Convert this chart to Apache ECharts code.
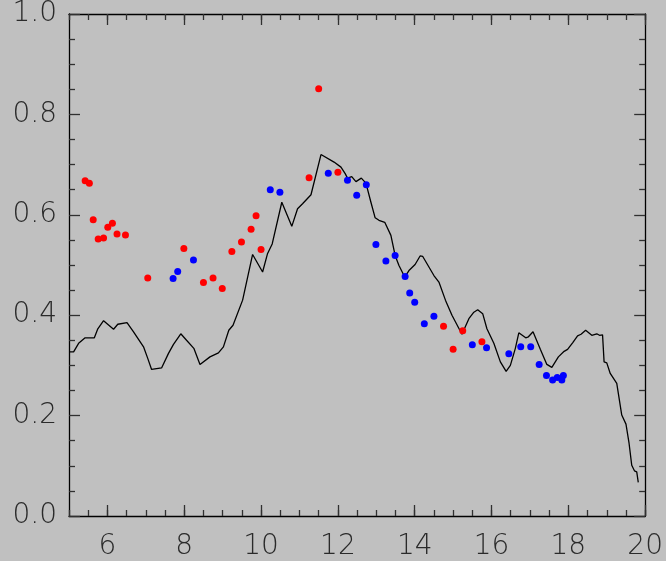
<!DOCTYPE html>
<html>
<head>
<meta charset="utf-8">
<script src="https://cdn.jsdelivr.net/npm/echarts@6/dist/echarts.min.js"></script>
<style>
html,body{margin:0;padding:0;background:#c0c0c0;}
#chart{width:666px;height:561px;}
</style>
</head>
<body>
<div id="chart"></div>
<script>
// Data
const xMajorTicks = [6, 8, 10, 12, 14, 16, 18, 20];
const yTicks = [0.0, 0.2, 0.4, 0.6, 0.8, 1.0];

const lineX = [5.01,5.12,5.25,5.42,5.66,5.75,5.90,6.16,6.27,6.51,6.68,6.94,7.05,7.15,7.41,7.59,7.72,7.91,8.06,8.25,8.41,8.67,8.89,9.02,9.16,9.27,9.52,9.78,10.04,10.17,10.29,10.54,10.80,10.95,11.08,11.30,11.56,11.90,12.08,12.19,12.25,12.36,12.47,12.61,12.73,12.86,12.97,13.07,13.22,13.38,13.49,13.59,13.74,13.85,14.01,14.14,14.21,14.37,14.50,14.63,14.80,14.97,15.23,15.41,15.54,15.64,15.77,15.88,16.06,16.23,16.38,16.49,16.62,16.71,16.89,16.96,17.08,17.27,17.44,17.57,17.74,17.89,17.98,18.11,18.24,18.33,18.45,18.50,18.61,18.74,18.81,18.89,18.93,19.00,19.09,19.26,19.39,19.50,19.58,19.65,19.72,19.78,19.82];
const lineY = [0.327,0.327,0.344,0.355,0.355,0.373,0.389,0.372,0.382,0.385,0.367,0.337,0.314,0.292,0.295,0.324,0.342,0.363,0.350,0.334,0.302,0.317,0.325,0.337,0.370,0.380,0.430,0.521,0.486,0.523,0.542,0.625,0.577,0.612,0.622,0.640,0.720,0.705,0.695,0.682,0.673,0.676,0.666,0.673,0.663,0.625,0.594,0.589,0.585,0.559,0.519,0.499,0.476,0.489,0.501,0.518,0.517,0.496,0.479,0.466,0.430,0.400,0.362,0.393,0.406,0.411,0.403,0.373,0.344,0.307,0.288,0.300,0.334,0.365,0.355,0.357,0.367,0.332,0.302,0.296,0.317,0.328,0.332,0.345,0.359,0.362,0.370,0.369,0.360,0.363,0.360,0.361,0.307,0.305,0.284,0.264,0.201,0.183,0.145,0.101,0.090,0.088,0.067];

const redX = [5.42,5.53,5.63,5.76,5.90,6.01,6.13,6.25,6.47,7.05,7.99,8.50,8.75,8.99,9.24,9.49,9.74,9.87,10.00,11.25,11.50,12.00,14.75,15.00,15.25,15.75];
const redY = [0.668,0.663,0.590,0.552,0.554,0.575,0.583,0.562,0.560,0.474,0.533,0.465,0.474,0.453,0.527,0.546,0.571,0.598,0.531,0.674,0.851,0.685,0.378,0.332,0.369,0.347];

const blueX = [7.71,7.83,8.24,10.24,10.49,11.75,12.25,12.49,12.74,12.99,13.25,13.49,13.75,13.87,14.00,14.25,14.50,15.50,15.87,16.45,16.76,17.02,17.24,17.43,17.59,17.71,17.83,17.87];
const blueY = [0.473,0.487,0.510,0.650,0.645,0.683,0.669,0.639,0.660,0.541,0.508,0.519,0.477,0.444,0.426,0.383,0.398,0.341,0.335,0.323,0.337,0.337,0.302,0.280,0.271,0.276,0.271,0.280];

const zip = (a, b) => a.map((v, i) => [v, b[i]]);

const FONT = "'DejaVu Sans', sans-serif";
const lineCol = '#000';
const tickCol = '#303030';
const labelCol = '#2a2a2a';

function xAxisMinor(pos) {
  return {
    type: 'value', position: pos, min: 5, max: 20, interval: 0.5,
    axisLine: {show: true, onZero: false, lineStyle: {color: lineCol, width: 1.3}},
    axisTick: {show: true, inside: true, length: 6, lineStyle: {color: tickCol, width: 1.3}},
    axisLabel: {show: false}, splitLine: {show: false}
  };
}
function xAxisMajor(pos, labels) {
  return {
    type: 'value', position: pos, min: 5, max: 20,
    axisLine: {show: false, onZero: false},
    axisTick: {show: true, inside: true, length: 11, customValues: xMajorTicks, lineStyle: {color: tickCol, width: 1.3}},
    axisLabel: labels ? {show: true, customValues: xMajorTicks, fontSize: 28, fontFamily: FONT, fontWeight: 200, color: labelCol, margin: 17} : {show: false},
    splitLine: {show: false}
  };
}
function yAxis(pos, labels) {
  return {
    type: 'value', position: pos, min: 0, max: 1, interval: 0.2,
    axisLine: {show: true, onZero: false, lineStyle: {color: lineCol, width: 1.3}},
    axisTick: {show: true, inside: true, length: 11, lineStyle: {color: tickCol, width: 1.3}},
    minorTick: {show: true, splitNumber: 4, length: 6, lineStyle: {color: tickCol, width: 1.3}},
    axisLabel: labels ? {show: true, fontSize: 28, fontFamily: FONT, fontWeight: 200, color: labelCol, margin: 12, formatter: v => v.toFixed(1)} : {show: false},
    splitLine: {show: false}, minorSplitLine: {show: false}
  };
}

const chart = echarts.init(document.getElementById('chart'), null, {renderer: 'canvas'});
chart.setOption({
  backgroundColor: '#c0c0c0',
  animation: false,
  grid: {left: 69, right: 19, top: 13, bottom: 45},
  xAxis: [xAxisMinor('bottom'), xAxisMajor('bottom', true), xAxisMinor('top'), xAxisMajor('top', false)],
  yAxis: [yAxis('left', true), yAxis('right', false)],
  series: [
    {type: 'line', xAxisIndex: 0, yAxisIndex: 0, data: zip(lineX, lineY), showSymbol: false, symbol: 'none',
     lineStyle: {color: '#000', width: 1.3}, z: 2},
    {type: 'scatter', xAxisIndex: 0, yAxisIndex: 0, data: zip(redX, redY), symbol: 'circle', symbolSize: 7,
     itemStyle: {color: '#ff0000', opacity: 1}, z: 3},
    {type: 'scatter', xAxisIndex: 0, yAxisIndex: 0, data: zip(blueX, blueY), symbol: 'circle', symbolSize: 7,
     itemStyle: {color: '#0000ff', opacity: 1}, z: 3}
  ]
});
</script>
</body>
</html>
